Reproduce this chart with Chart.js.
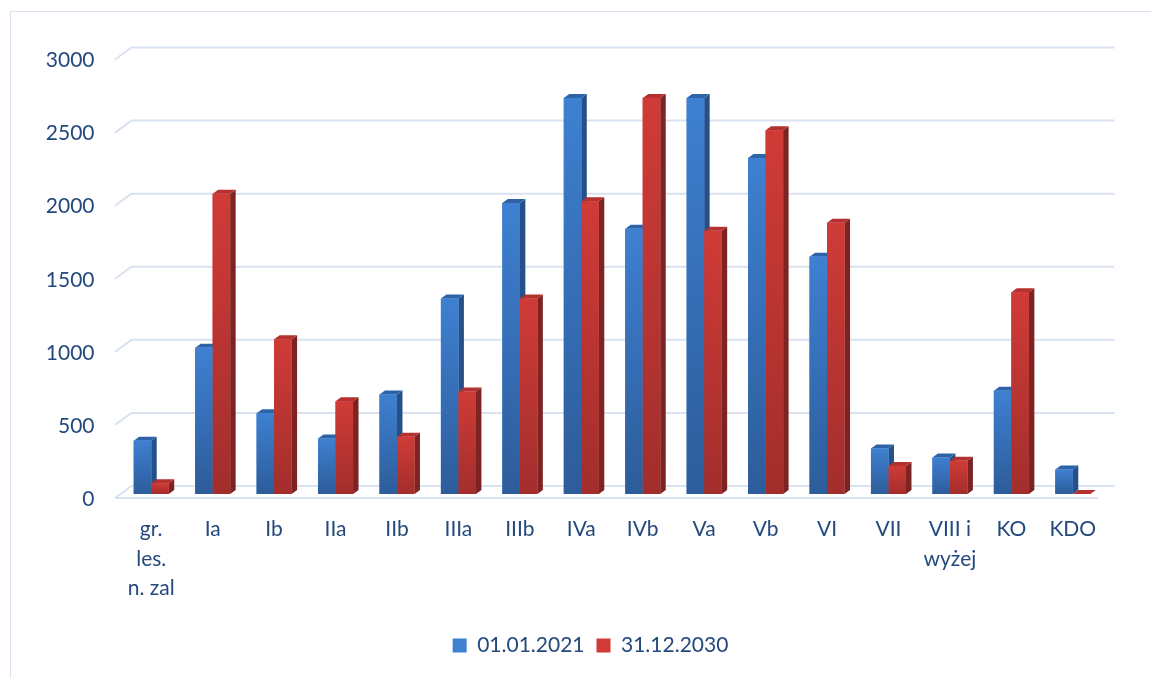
<!DOCTYPE html>
<html>
<head>
<meta charset="utf-8">
<script src="https://cdn.jsdelivr.net/npm/chart.js@4.4.0/dist/chart.umd.min.js"></script>
<style>
    html, body { margin: 0; padding: 0; background: #fff; overflow: hidden; }
    #wrap { position: absolute; left: 0; top: 0; width: 1181px; height: 678px; }
    #frame { position: absolute; left: 10px; top: 11px; width: 1170px; height: 700px; border: 1px solid #d9e1ef; }
    #chart { position: absolute; left: 0; top: 0; }
</style>
</head>
<body>
<div id="wrap">
    <div id="frame"></div>
    <canvas id="chart" width="1181" height="678"></canvas>
</div>
<script>
// Dane
const categories = [
    ['gr.', 'les.', 'n. zal'], 'Ia', 'Ib', 'IIa', 'IIb', 'IIIa', 'IIIb', 'IVa',
    'IVb', 'Va', 'Vb', 'VI', 'VII', ['VIII i', 'wyżej'], 'KO', 'KDO'
];
const seriesNames = ['01.01.2021', '31.12.2030'];
const values2021 = [365, 1000, 552, 380, 680, 1338, 1991, 2710, 1814, 2710, 2298, 1624, 311, 249, 706, 167];
const values2030 = [73, 2055, 1058, 634, 392, 701, 1338, 2002, 2710, 1801, 2488, 1856, 192, 227, 1381, 0];
const yTicks = [0, 500, 1000, 1500, 2000, 2500, 3000];

const textColor = '#24497d';
const gridColor = '#d9e2f1';

// kolory: [góra frontu, dół frontu, bok, wierzch]
const palette = [
    ['#3e80d1', '#2d5c9a', '#25508a', '#2f63a8'],
    ['#d03b37', '#a22e2c', '#7d2322', '#b3312e']
];

const DX = 5.5, DY = 4;
const fontSpec = { family: 'Lato, "Open Sans", sans-serif', size: 21 };

const depth3d = {
    id: 'depth3d',
    beforeDatasetsDraw(chart) {
        const ctx = chart.ctx;
        const area = chart.chartArea;
        const y = chart.scales.y;
        ctx.save();
        ctx.strokeStyle = gridColor;
        ctx.lineWidth = 2;
        yTicks.forEach(function(v) {
            const py = y.getPixelForValue(v);
            ctx.beginPath();
            ctx.moveTo(area.left - 5.5, py + 4);
            ctx.lineTo(area.left + 11, py - 8);
            ctx.lineTo(area.right + 11, py - 8);
            ctx.stroke();
            if (v === 0) {
                ctx.beginPath();
                ctx.moveTo(area.left - 5.5, py + 4);
                ctx.lineTo(area.right - 5.5, py + 4);
                ctx.stroke();
            }
            // etykiety osi Y (z przodu podłogi)
            ctx.fillStyle = textColor;
            ctx.font = fontSpec.size + 'px ' + fontSpec.family;
            ctx.textAlign = 'right';
            ctx.textBaseline = 'middle';
            ctx.fillText(String(v), area.left - 26, py + 5);
        });
        ctx.restore();
    },
    afterDatasetsDraw(chart) {
        const ctx = chart.ctx;
        ctx.save();
        chart.data.datasets.forEach(function(ds, di) {
            const cols = palette[di];
            chart.getDatasetMeta(di).data.forEach(function(bar) {
                const p = bar.getProps(['x', 'y', 'base', 'width'], true);
                const l = p.x - p.width / 2, r = p.x + p.width / 2;
                const top = p.y, base = p.base;
                // bok
                ctx.fillStyle = cols[2];
                ctx.beginPath();
                ctx.moveTo(r, top);
                ctx.lineTo(r + DX, top - DY);
                ctx.lineTo(r + DX, base - DY);
                ctx.lineTo(r, base);
                ctx.closePath();
                ctx.fill();
                // wierzch
                ctx.fillStyle = cols[3];
                ctx.beginPath();
                ctx.moveTo(l, top);
                ctx.lineTo(l + DX, top - DY);
                ctx.lineTo(r + DX, top - DY);
                ctx.lineTo(r, top);
                ctx.closePath();
                ctx.fill();
                // front
                if (base - top > 0.5) {
                    const g = ctx.createLinearGradient(0, top, 0, base);
                    g.addColorStop(0, cols[0]);
                    g.addColorStop(1, cols[1]);
                    ctx.fillStyle = g;
                    ctx.fillRect(l, top, r - l, base - top);
                }
            });
        });
        ctx.restore();
    }
};

const ctx = document.getElementById('chart').getContext('2d');

new Chart(ctx, {
    type: 'bar',
    data: {
        labels: categories,
        datasets: [
            { label: seriesNames[0], data: values2021, backgroundColor: palette[0][0], borderWidth: 0 },
            { label: seriesNames[1], data: values2030, backgroundColor: palette[1][0], borderWidth: 0 }
        ]
    },
    options: {
        responsive: false,
        animation: false,
        devicePixelRatio: 1,
        categoryPercentage: 0.57,
        barPercentage: 1,
        layout: { padding: { left: 77.5, right: 77.5, top: 55.5, bottom: 12 } },
        scales: {
            x: {
                grid: { display: false, drawTicks: false },
                border: { display: false },
                ticks: {
                    color: textColor,
                    font: Object.assign({ lineHeight: 1.4 }, fontSpec),
                    padding: 21,
                    maxRotation: 0,
                    autoSkip: false
                },
                afterFit: function(s) { s.height = 129; }
            },
            y: {
                min: 0,
                max: 3000,
                grid: { display: false, drawTicks: false },
                border: { display: false },
                ticks: { display: false, stepSize: 500 },
                afterFit: function(s) { s.width = 43; }
            }
        },
        plugins: {
            legend: {
                position: 'bottom',
                labels: {
                    color: textColor,
                    font: fontSpec,
                    boxWidth: 14,
                    boxHeight: 14,
                    padding: 12
                }
            },
            tooltip: { enabled: false }
        }
    },
    plugins: [depth3d]
});
</script>
</body>
</html>
